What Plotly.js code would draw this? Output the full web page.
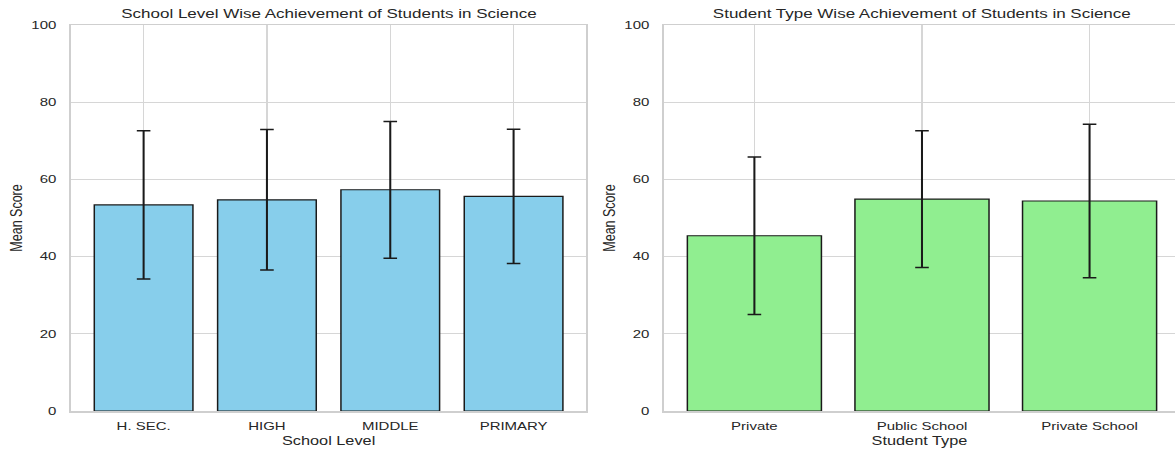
<!DOCTYPE html>
<html>
<head>
<meta charset="utf-8">
<script src="https://cdn.plot.ly/plotly-3.0.1.min.js"></script>
<style>
html,body{margin:0;padding:0;background:#fff;overflow:hidden;}
#wrap{width:1175px;height:452px;overflow:hidden;}
#chart{width:864px;height:452px;transform:scaleX(1.36);transform-origin:0 0;}
</style>
</head>
<body>
<div id="wrap"><div id="chart"></div></div>
<script>
// Data
const schoolLevels = ["H. SEC.", "HIGH", "MIDDLE", "PRIMARY"];
const schoolLevelMeans = [53.4, 54.7, 57.3, 55.6];
const schoolLevelSD = [19.2, 18.2, 17.7, 17.4];

const studentTypes = ["Private", "Public School", "Private School"];
const studentTypeMeans = [45.4, 54.9, 54.4];
const studentTypeSD = [20.4, 17.7, 19.9];

const font = "Liberation Sans, Arial, sans-serif";
const textC = "#262626";
const gridC = "#d6d6d6";
const spineC = "#cfcfcf";

const err = (arr) => ({type: "data", array: arr, visible: true, color: "#1a1a1a", thickness: 1.5, width: 5});

const traces = [
  {type: "bar", x: schoolLevels, y: schoolLevelMeans, error_y: err(schoolLevelSD),
   marker: {color: "#87CEEB", line: {color: "#1a1a1a", width: 1.1}}, width: 0.8,
   xaxis: "x", yaxis: "y", hoverinfo: "x+y"},
  {type: "bar", x: studentTypes, y: studentTypeMeans, error_y: err(studentTypeSD),
   marker: {color: "#90EE90", line: {color: "#1a1a1a", width: 1.1}}, width: 0.8,
   xaxis: "x2", yaxis: "y2", hoverinfo: "x+y"}
];

const xCommon = {
  showgrid: true, gridcolor: gridC, gridwidth: 1,
  showline: true, linecolor: spineC, linewidth: 1.5, mirror: true,
  ticks: "outside", ticklen: 4, tickcolor: "rgba(0,0,0,0)",
  tickfont: {family: font, size: 11, color: textC},
  zeroline: false, fixedrange: true
};
const yCommon = {
  range: [0, 100], dtick: 20, showgrid: true, gridcolor: gridC, gridwidth: 1,
  showline: true, linecolor: spineC, linewidth: 1.5,
  ticks: "outside", ticklen: 7, tickcolor: "rgba(0,0,0,0)",
  tickfont: {family: font, size: 11, color: textC},
  zeroline: false, fixedrange: true
};

const layout = {
  width: 864, height: 452,
  margin: {l: 0, r: 0, t: 25, b: 41},
  paper_bgcolor: "#fff", plot_bgcolor: "#fff",
  showlegend: false,
  xaxis: Object.assign({}, xCommon, {domain: [0.0603, 0.499], range: [-0.59, 3.59],
    title: {text: "School Level", font: {family: font, size: 12, color: textC}, standoff: 6}}),
  yaxis: Object.assign({}, yCommon, {anchor: "x", mirror: true,
    title: {text: "Mean Score", font: {family: font, size: 12.5, color: textC}, standoff: 3}}),
  xaxis2: Object.assign({}, xCommon, {domain: [0.565, 1.0], range: [-0.54, 2.51], anchor: "y2",
    title: {text: "Student Type", font: {family: font, size: 12, color: textC}, standoff: 6}}),
  yaxis2: Object.assign({}, yCommon, {anchor: "x2", mirror: false,
    title: {text: "Mean Score", font: {family: font, size: 12.5, color: textC}, standoff: 3}}),
  annotations: [
    {text: "School Level Wise Achievement of Students in Science", xref: "paper", yref: "paper",
     x: (0.0603 + 0.499) / 2, y: 1, yanchor: "bottom", xanchor: "center", yshift: 2, showarrow: false,
     font: {family: font, size: 12.5, color: textC}},
    {text: "Student Type Wise Achievement of Students in Science", xref: "paper", yref: "paper",
     x: (0.565 + 0.565 + (1180 - 664) / 1175) / 2, y: 1, yanchor: "bottom", xanchor: "center", yshift: 2, showarrow: false,
     font: {family: font, size: 12.5, color: textC}}
  ]
};

Plotly.newPlot("chart", traces, layout, {displayModeBar: false, staticPlot: true});
</script>
</body>
</html>
